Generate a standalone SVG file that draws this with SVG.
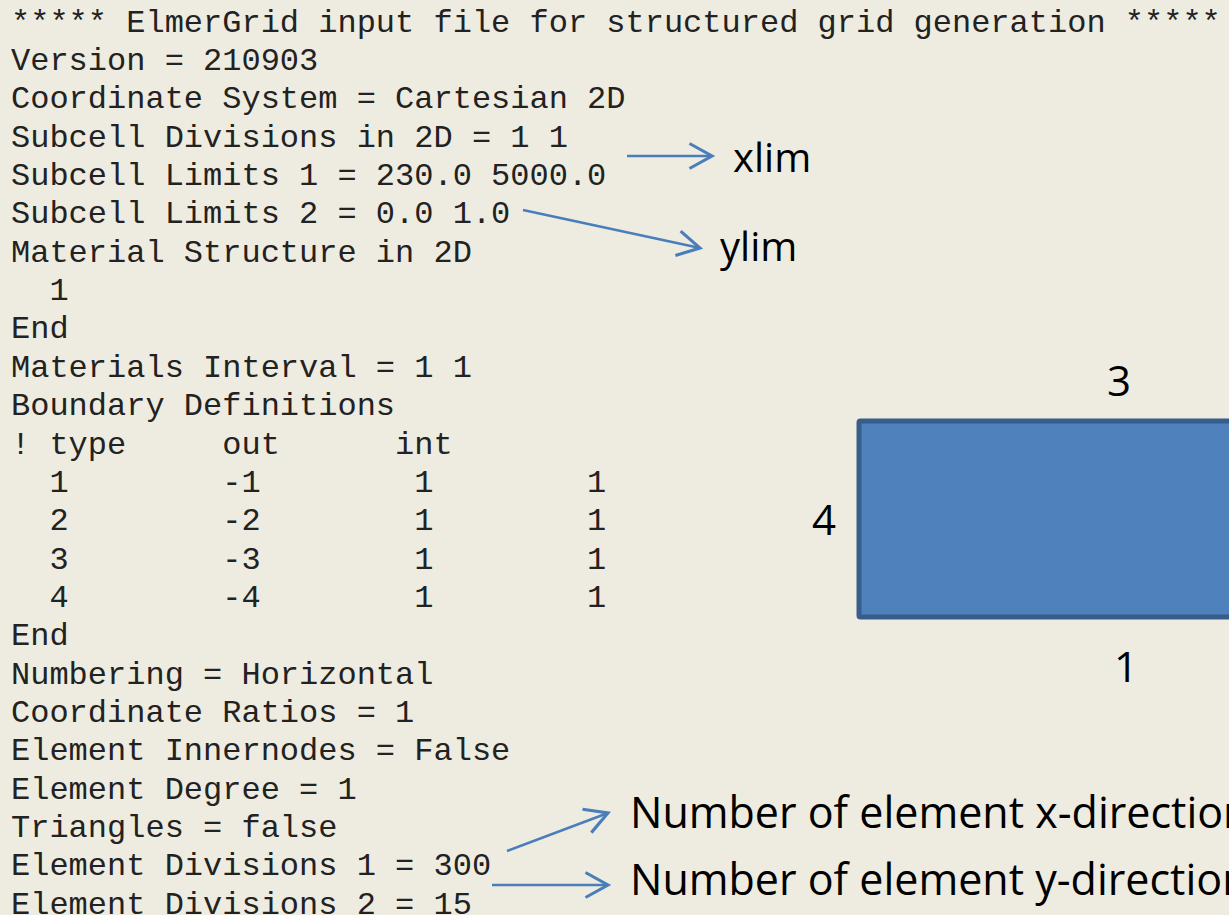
<svg xmlns="http://www.w3.org/2000/svg" width="1229" height="915" viewBox="0 0 1229 915">
<style>
.code{font-family:"Liberation Mono","Courier New",monospace;font-size:32px;fill:#222;white-space:pre}
.lbl{font-family:"Open Sans","Noto Sans",sans-serif;fill:#000}
.arr{fill:none;stroke:#4A7EBB;stroke-width:2.5;marker-end:url(#head)}
</style>
<defs>
<marker id="head" markerUnits="userSpaceOnUse" markerWidth="30" markerHeight="30" viewBox="-20 -12 24 24" refX="0" refY="0" orient="auto">
<path d="M-18,-10 L0,0 L-18,10" fill="none" stroke="#4A7EBB" stroke-width="2.5"/>
</marker>
</defs>
<rect width="1229" height="915" fill="#EEECE1"/>
<g id="code" class="code">
<text xml:space="preserve" x="11" y="31.6">***** ElmerGrid input file for structured grid generation *****</text>
<text xml:space="preserve" x="11" y="70">Version = 210903</text>
<text xml:space="preserve" x="11" y="108.35">Coordinate System = Cartesian 2D</text>
<text xml:space="preserve" x="11" y="146.7">Subcell Divisions in 2D = 1 1</text>
<text xml:space="preserve" x="11" y="185.05">Subcell Limits 1 = 230.0 5000.0</text>
<text xml:space="preserve" x="11" y="223.4">Subcell Limits 2 = 0.0 1.0</text>
<text xml:space="preserve" x="11" y="261.75">Material Structure in 2D</text>
<text xml:space="preserve" x="11" y="300.1">  1</text>
<text xml:space="preserve" x="11" y="338.45">End</text>
<text xml:space="preserve" x="11" y="376.8">Materials Interval = 1 1</text>
<text xml:space="preserve" x="11" y="415.15">Boundary Definitions</text>
<text xml:space="preserve" x="11" y="453.5">! type     out      int</text>
<text xml:space="preserve" x="11" y="491.85">  1        -1        1        1</text>
<text xml:space="preserve" x="11" y="530.2">  2        -2        1        1</text>
<text xml:space="preserve" x="11" y="568.55">  3        -3        1        1</text>
<text xml:space="preserve" x="11" y="606.9">  4        -4        1        1</text>
<text xml:space="preserve" x="11" y="645.25">End</text>
<text xml:space="preserve" x="11" y="683.6">Numbering = Horizontal</text>
<text xml:space="preserve" x="11" y="721.95">Coordinate Ratios = 1</text>
<text xml:space="preserve" x="11" y="760.3">Element Innernodes = False</text>
<text xml:space="preserve" x="11" y="798.65">Element Degree = 1</text>
<text xml:space="preserve" x="11" y="837">Triangles = false</text>
<text xml:space="preserve" x="11" y="875.35">Element Divisions 1 = 300</text>
<text xml:space="preserve" x="11" y="913.7">Element Divisions 2 = 15</text>
</g>
<g id="domain">
<rect x="859" y="421" width="400" height="196" rx="1.5" fill="#4F81BD" stroke="#385D8A" stroke-width="5"/>
</g>
<g id="boundary-labels" class="lbl" font-size="42" text-anchor="middle">
<text id="b3" x="1119" y="396">3</text>
<text id="b4" x="824" y="535">4</text>
<text id="b1" x="1126" y="682">1</text>
</g>
<g id="annotations" class="lbl">
<text id="xlim" x="733" y="172" font-size="40">xlim</text>
<text id="ylim" x="720" y="261" font-size="40">ylim</text>
<text id="nx" x="630" y="828" font-size="43">Number of element x-direction</text>
<text id="ny" x="630" y="895" font-size="43">Number of element y-direction</text>
</g>
<g id="connectors">
<line class="arr" x1="627" y1="156" x2="712" y2="156"/>
<line class="arr" x1="523" y1="210" x2="700" y2="248"/>
<line class="arr" x1="507" y1="851" x2="608" y2="813"/>
<line class="arr" x1="492" y1="885" x2="608" y2="885"/>
</g>
</svg>
